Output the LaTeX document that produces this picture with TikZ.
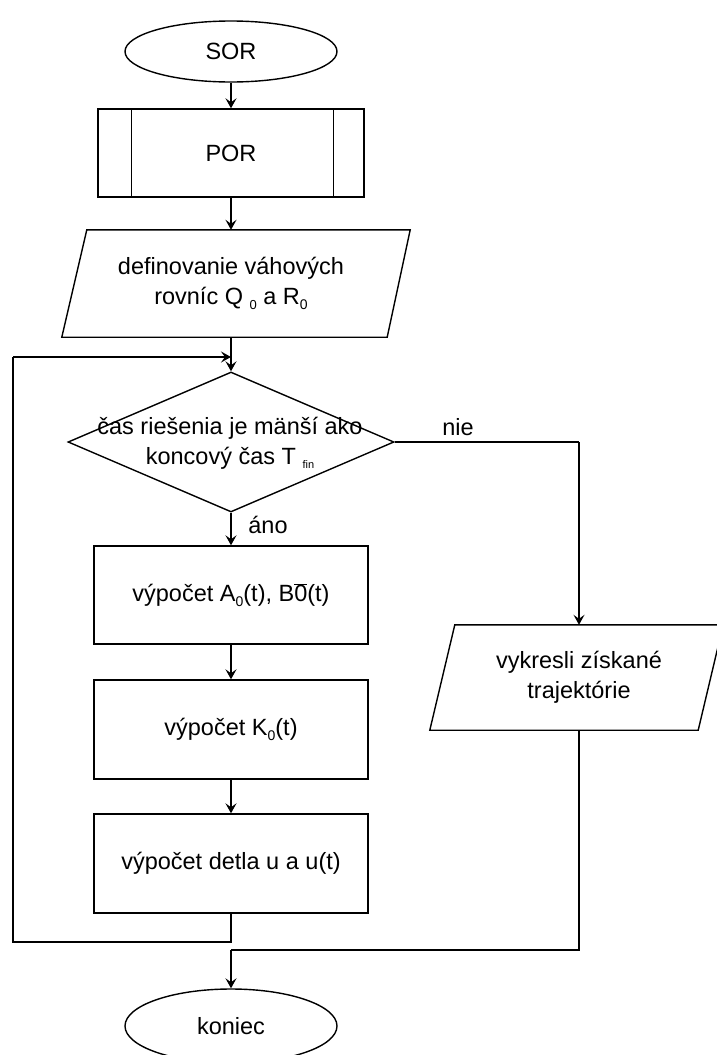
\documentclass[tikz,border=0pt]{standalone}
\usepackage{fontspec}
\setmainfont{Liberation Sans}
\usetikzlibrary{shapes.geometric,arrows.meta}
\newcommand\lowsub[2][14]{\raisebox{-0.35ex}{\fontsize{#1}{#1}\selectfont #2}}
\begin{document}
\begin{tikzpicture}[x=1pt,y=-1pt,
  every node/.style={font=\fontsize{23.5}{30}\selectfont, inner sep=0pt, align=center},
  line/.style={draw=black, line width=1.4pt},
  arr/.style={line, -{Stealth[length=10pt,width=11pt,inset=4pt]}},
  term/.style={ellipse, draw, line width=1.4pt, minimum width=212pt},
  procbox/.style={rectangle, draw, line width=1.4pt, minimum width=274pt, minimum height=98pt},
  plain/.style={rectangle, minimum height=105pt}
]
\useasboundingbox (0,0) rectangle (717,1055);
\fill[white] (0,0) rectangle (717,1055);

% start
\node[term, minimum height=61pt] (sor) at (231,51.5) {SOR};
% predefined process
\node[rectangle, draw, line width=1.4pt, minimum width=266pt, minimum height=88pt] (por) at (231,153) {POR};
\draw[line] ([xshift=34pt]por.north west) -- ([xshift=34pt]por.south west);
\draw[line] ([xshift=-31pt]por.north east) -- ([xshift=-31pt]por.south east);
% input/output 1
\node[plain, minimum width=324pt, minimum height=107pt] (def) at (231,283.5) {definovanie váhových\\rovníc Q \lowsub[13]{0} a R\lowsub{0}};
\draw[line] ([xshift=18pt]def.north west) -- ([xshift=17pt]def.north east) -- ([xshift=-6pt]def.south east) -- ([xshift=-7pt]def.south west) -- cycle;
% decision
\node[diamond, draw, line width=1.4pt, minimum width=326pt, minimum height=140pt] (dec) at (231,442) {};
\node (dect) at (230,443) {čas riešenia je mänší ako\\koncový čas T \lowsub[11]{fin}};
% process boxes
\node[procbox] (b1) at (231,595) {výpočet A\lowsub{0}(t), B$\overline{\mbox{0}}$(t)};
\node[procbox, minimum height=99pt] (b2) at (231,729.5) {výpočet K\lowsub{0}(t)};
\node[procbox, minimum height=99pt] (b3) at (231,863.5) {výpočet detla u a u(t)};
% output
\node[plain, minimum width=268pt] (vyk) at (579,677.5) {vykresli získané\\trajektórie};
\draw[line] ([xshift=10pt]vyk.north west) -- ([xshift=10pt]vyk.north east) -- ([xshift=-15pt]vyk.south east) -- ([xshift=-15pt]vyk.south west) -- cycle;
% end
\node[term, minimum height=74pt] (kon) at (231,1026) {koniec};

% labels
\node (ano) at (268,525) {áno};
\node (nie) at (458,427) {nie};

% coordinates
\coordinate (lb) at (231,942);
\coordinate (ll) at (13,942);
\coordinate (lt) at (13,357);
\coordinate (lm) at (231,357);
\coordinate (rc) at (579,442);
\coordinate (rb) at (579,950);
\coordinate (cb) at (231,950);

% connectors
\draw[arr] (sor.south) -- (por.north);
\draw[arr] (por.south) -- (def.north);
\draw[arr] (def.south) -- (dec.north);
\draw[arr] (dec.south) -- (b1.north);
\draw[arr] (b1.south) -- (b2.north);
\draw[arr] (b2.south) -- (b3.north);
\draw[line] (b3.south) -- (lb) -- (ll) -- (lt);
\draw[arr] (lt) -- (lm);
\draw[line] (dec.east) -- (rc);
\draw[arr] (rc) -- (vyk.north);
\draw[line] (vyk.south) -- (rb) -- (cb);
\draw[arr] (cb) -- (kon.north);
\end{tikzpicture}
\end{document}
